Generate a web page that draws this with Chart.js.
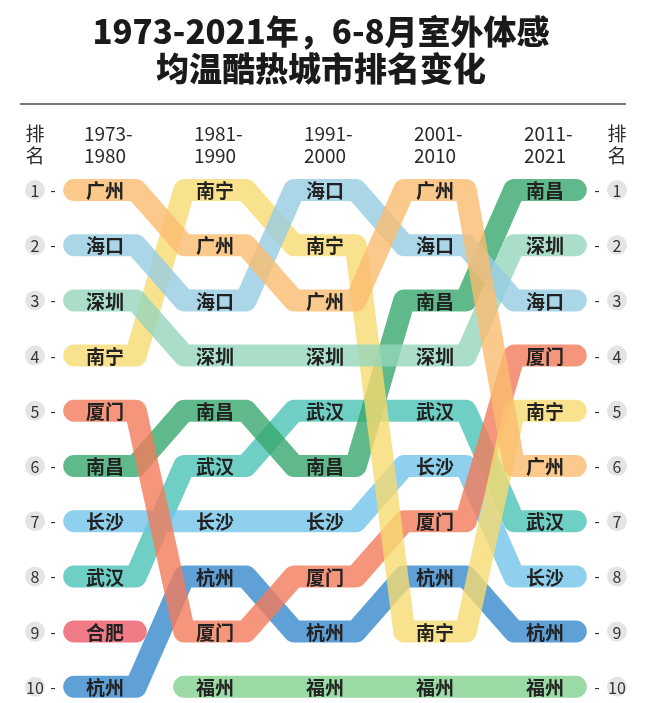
<!DOCTYPE html>
<html>
<head>
<meta charset="utf-8">
<script src="https://cdn.jsdelivr.net/npm/chart.js@4/dist/chart.umd.min.js"></script>
<style>
html, body { margin: 0; padding: 0; background: #fff; }
#wrap { position: relative; width: 648px; height: 703px; }
#title {
    position: absolute; left: 0; top: 12px; width: 642px; text-align: center;
    font-family: "Noto Sans CJK SC"; font-weight: 900; font-size: 33px; line-height: 37px; color: #1a1a1a;
}
#rule { position: absolute; left: 20px; top: 103px; width: 606px; height: 2px; background: #777; }
canvas { position: absolute; left: 0; top: 0; }
</style>
</head>
<body>
<div id="wrap">
    <canvas id="chart" width="648" height="703"></canvas>
    <div id="title">1973-2021年，6-8月室外体感<br>均温酷热城市排名变化</div>
    <div id="rule"></div>
</div>
<script>
// periods (column headers)
const periods = [["1973-", "1980"], ["1981-", "1990"], ["1991-", "2000"], ["2001-", "2010"], ["2011-", "2021"]];
const rankLabels = [1, 2, 3, 4, 5, 6, 7, 8, 9, 10];

// rank of each city per period (null = not in top 10)
const cities = ["广州", "海口", "深圳", "南宁", "厦门", "南昌", "长沙", "武汉", "合肥", "杭州", "福州"];
const guangzhou = [1, 2, 3, 1, 6];
const haikou    = [2, 3, 1, 2, 3];
const shenzhen  = [3, 4, 4, 4, 2];
const nanning   = [4, 1, 2, 9, 5];
const xiamen    = [5, 9, 8, 7, 4];
const nanchang  = [6, 5, 6, 3, 1];
const changsha  = [7, 7, 7, 6, 8];
const wuhan     = [8, 6, 5, 5, 7];
const hefei     = [9, null, null, null, null];
const hangzhou  = [10, 8, 9, 8, 9];
const fuzhou    = [null, 10, 10, 10, 10];
const ranks = [guangzhou, haikou, shenzhen, nanning, xiamen, nanchang, changsha, wuhan, hefei, hangzhou, fuzhou];

const colors = [
    "rgba(250,187,111,0.8)", "rgba(150,204,226,0.8)", "rgba(149,214,186,0.8)", "rgba(247,219,114,0.8)",
    "rgba(242,124,91,0.8)", "rgba(55,167,109,0.8)", "rgba(115,196,234,0.8)", "rgba(75,195,181,0.8)",
    "rgba(236,89,104,0.8)", "rgba(55,136,204,0.8)", "rgba(130,209,142,0.8)"
];

const FLAT = 0.28; // half width of the flat part of each pill, in column units
const FONT = '"Noto Sans CJK SC", "Noto Sans", sans-serif';

function buildPoints(r) {
    const pts = [];
    r.forEach((v, i) => {
        pts.push({ x: i - FLAT, y: v });
        pts.push({ x: i + FLAT, y: v });
    });
    return pts;
}

const datasets = cities.map((c, k) => ({
    label: c,
    data: buildPoints(ranks[k]),
    borderColor: colors[k],
    backgroundColor: colors[k],
    borderWidth: 22,
    borderCapStyle: "round",
    borderJoinStyle: "round",
    pointRadius: 0,
    tension: 0,
    spanGaps: false,
}));

const labelsPlugin = {
    id: "bumpLabels",
    afterDatasetsDraw(chart) {
        const ctx = chart.ctx;
        const xs = chart.scales.x, ys = chart.scales.y;
        ctx.save();
        // city names
        ctx.font = "bold 19px " + FONT;
        ctx.fillStyle = "#222";
        ctx.textAlign = "center";
        ctx.textBaseline = "middle";
        cities.forEach((c, k) => {
            ranks[k].forEach((v, i) => {
                if (v == null) return;
                ctx.fillText(c, xs.getPixelForValue(i), ys.getPixelForValue(v) + 1);
            });
        });
        // rank labels on both sides
        const leftX = xs.getPixelForValue(0) - 70;
        const rightX = xs.getPixelForValue(periods.length - 1) + 72;
        rankLabels.forEach(r => {
            const y = ys.getPixelForValue(r);
            [leftX, rightX].forEach(x => {
                ctx.beginPath();
                ctx.arc(x, y, 10, 0, Math.PI * 2);
                ctx.fillStyle = "#e4e4e4";
                ctx.fill();
                ctx.fillStyle = "#333";
                ctx.font = "16px " + FONT;
                ctx.textAlign = "center";
                ctx.fillText(String(r), x, y + 1);
            });
            ctx.fillText("-", leftX + 18, y);
            ctx.fillText("-", rightX - 20, y);
        });
        // column headers
        const y1 = ys.getPixelForValue(1) - 56, y2 = ys.getPixelForValue(1) - 34;
        ctx.font = "19px " + FONT;
        ctx.fillStyle = "#2a2a2a";
        ctx.textAlign = "left";
        periods.forEach((p, i) => {
            const cx = xs.getPixelForValue(i);
            const left = cx - ctx.measureText(p[1]).width / 2;
            ctx.fillText(p[0], left, y1);
            ctx.fillText(p[1], left, y2);
        });
        ctx.textAlign = "center";
        [leftX, rightX].forEach(x => {
            ctx.fillText("排", x, y1);
            ctx.fillText("名", x, y2);
        });
        ctx.restore();
    }
};

new Chart(document.getElementById("chart"), {
    type: "line",
    data: { datasets },
    options: {
        responsive: false,
        animation: false,
        layout: { padding: 0 },
        scales: {
            x: { type: "linear", display: false, min: -0.9545, max: 4.9364 },
            y: { type: "linear", display: false, reverse: true, min: -2.442, max: 10.294 }
        },
        plugins: { legend: { display: false }, tooltip: { enabled: false } }
    },
    plugins: [labelsPlugin]
});
</script>
</body>
</html>
